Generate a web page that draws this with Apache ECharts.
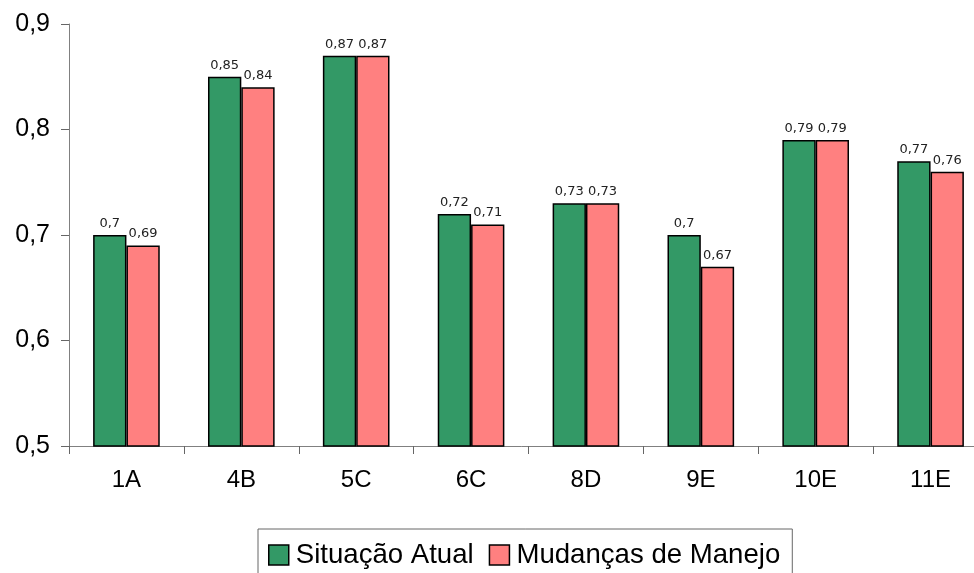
<!DOCTYPE html>
<html>
<head>
<meta charset="utf-8">
<script src="https://cdn.jsdelivr.net/npm/echarts@6/dist/echarts.min.js"></script>
<style>
  html, body { margin: 0; padding: 0; background: #fff; }
  #main { width: 974px; height: 573px; }
</style>
</head>
<body>
<div id="main"></div>
<script>
var categories = ['1A', '4B', '5C', '6C', '8D', '9E', '10E', '11E'];
var situacaoAtual = [0.70, 0.85, 0.87, 0.72, 0.73, 0.70, 0.79, 0.77];
var mudancasManejo = [0.69, 0.84, 0.87, 0.71, 0.73, 0.67, 0.79, 0.76];
var yTicks = [0.5, 0.6, 0.7, 0.8, 0.9];

// numero com virgula decimal
function fmt(v) {
    return String(Math.round(v * 100) / 100).replace('.', ',');
}

var myChart = echarts.init(document.getElementById('main'));

var labelStyle = {
    show: true,
    position: 'top',
    distance: 5,
    color: '#222',
    fontFamily: 'DejaVu Sans',
    fontSize: 13,
    formatter: function (p) { return fmt(p.value); }
};

var option = {
    animation: false,
    textStyle: { fontFamily: 'Liberation Sans' },
    grid: {
        left: 69,
        top: 24,
        width: 919,
        bottom: 127,
        containLabel: false,
        outerBoundsMode: 'none'
    },
    legend: {
        top: 529,
        left: 258,
        icon: 'rect',
        itemWidth: 20,
        itemHeight: 20,
        itemGap: 15,
        padding: [12, 12, 20, 10],
        borderColor: '#666',
        borderWidth: 1,
        itemStyle: { borderColor: '#000', borderWidth: 1.5 },
        textStyle: { fontSize: 27.6, color: '#000', fontFamily: 'Liberation Sans', padding: [0, 0, 0, 2] },
        data: ['Situação Atual', 'Mudanças de Manejo']
    },
    xAxis: {
        type: 'category',
        data: categories,
        axisLine: { lineStyle: { color: '#808080', width: 1 } },
        axisTick: { show: true, length: 8, inside: false, lineStyle: { color: '#666' } },
        axisLabel: { fontSize: 24, color: '#000', margin: 22 }
    },
    yAxis: {
        type: 'value',
        min: yTicks[0],
        max: yTicks[yTicks.length - 1],
        interval: 0.1,
        axisLine: { show: true, lineStyle: { color: '#808080', width: 1 } },
        axisTick: { show: true, length: 8, lineStyle: { color: '#666' } },
        splitLine: { show: false },
        axisLabel: { fontSize: 25, color: '#000', margin: 19, formatter: function (v) { return fmt(v); } }
    },
    series: [
        {
            name: 'Situação Atual',
            type: 'bar',
            data: situacaoAtual,
            barGap: '0%',
            barCategoryGap: '42%',
            itemStyle: { color: '#339966', borderColor: '#000', borderWidth: 1.5 },
            label: labelStyle
        },
        {
            name: 'Mudanças de Manejo',
            type: 'bar',
            data: mudancasManejo,
            barGap: '0%',
            barCategoryGap: '42%',
            itemStyle: { color: '#FF8080', borderColor: '#000', borderWidth: 1.5 },
            label: labelStyle
        }
    ]
};

myChart.setOption(option, true);
</script>
</body>
</html>
